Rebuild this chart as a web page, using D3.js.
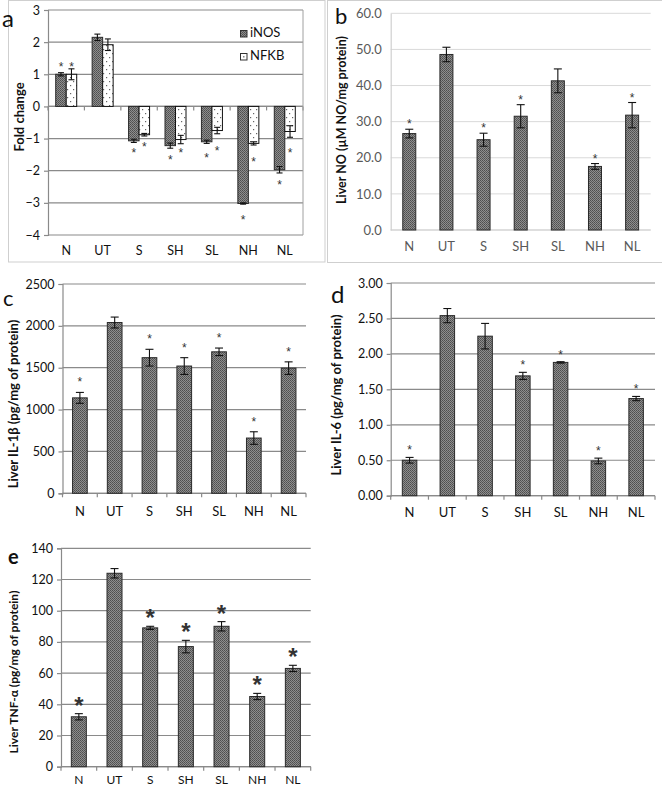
<!DOCTYPE html>
<html><head><meta charset="utf-8">
<script src="https://cdn.jsdelivr.net/npm/d3@7"></script>
<style>
html,body{margin:0;padding:0;background:#fff;}
svg{display:block;font-family:Lato,"Open Sans",sans-serif;}
</style></head>
<body>
<svg id="c" width="662" height="788"></svg>
<script>
// ---------- DATA ----------
const categories = ["N","UT","S","SH","SL","NH","NL"];

// panel a
const iNOS     = [1.00, 2.15, -1.07, -1.22, -1.10, -3.02, -1.97];
const iNOSErr  = [0.05, 0.10, 0.05, 0.08, 0.05, 0.02, 0.10];
const NFKB     = [1.00, 1.92, -0.88, -1.03, -0.75, -1.15, -0.78];
const NFKBErr  = [0.17, 0.18, 0.04, 0.13, 0.10, 0.05, 0.18];
const starINOS = [1.3, null, -1.4, -1.6, -1.53, -3.47, -2.37];
const starNFKB = [1.3, null, -1.2, -1.4, -1.33, -1.68, -1.38];
const ticksA   = [3, 2, 1, 0, -1, -2, -3, -4];

// panel b
const liverNO    = [26.7, 48.6, 25.0, 31.5, 41.3, 17.6, 31.8];
const liverNOErr = [1.2, 2.0, 1.8, 3.2, 3.3, 0.8, 3.5];
const sigNO      = [1, 0, 1, 1, 0, 1, 1];
const ticksB     = [0, 10, 20, 30, 40, 50, 60];

// panel c
const il1b    = [1140, 2040, 1620, 1520, 1690, 660, 1495];
const il1bErr = [65, 65, 100, 100, 45, 75, 75];
const sigIL1b = [1, 0, 1, 1, 1, 1, 1];
const ticksC  = [0, 500, 1000, 1500, 2000, 2500];

// panel d
const il6    = [0.50, 2.54, 2.25, 1.69, 1.88, 0.49, 1.37];
const il6Err = [0.04, 0.10, 0.18, 0.05, 0.01, 0.04, 0.03];
const sigIL6 = [1, 0, 0, 1, 1, 1, 1];
const ticksD = [0, 0.5, 1, 1.5, 2, 2.5, 3];

// panel e
const tnf    = [32, 124, 89, 77, 90, 45, 63];
const tnfErr = [2, 3, 1, 4, 3, 2, 2];
const sigTNF = [1, 0, 1, 1, 1, 1, 1];
const ticksE = [0, 20, 40, 60, 80, 100, 120, 140];

// ---------- DRAW ----------
const STAR_FONT = "'Liberation Sans',Arial,sans-serif";
const svg = d3.select("#c");
const defs = svg.append("defs");
const hatch = defs.append("pattern").attr("id","hatch").attr("patternUnits","userSpaceOnUse")
  .attr("width",2).attr("height",2);
hatch.append("rect").attr("width",2).attr("height",2).attr("fill","#8e8e8e");
hatch.append("rect").attr("x",0).attr("y",0).attr("width",1).attr("height",1).attr("fill","#4e4e4e");
hatch.append("rect").attr("x",1).attr("y",1).attr("width",1).attr("height",1).attr("fill","#5a5a5a");
const dots = defs.append("pattern").attr("id","dots").attr("patternUnits","userSpaceOnUse")
  .attr("width",6).attr("height",8);
dots.append("rect").attr("width",6).attr("height",8).attr("fill","#fff");
dots.append("rect").attr("x",1).attr("y",1).attr("width",1.2).attr("height",1.2).attr("fill","#666");
dots.append("rect").attr("x",4).attr("y",5).attr("width",1.2).attr("height",1.2).attr("fill","#666");

// panel borders (a, b)
svg.append("rect").attr("x",8.5).attr("y",0.5).attr("width",316.5).attr("height",261.5)
  .attr("fill","none").attr("stroke","#cfcfcf");
svg.append("rect").attr("x",327.5).attr("y",0.5).attr("width",340).attr("height",262)
  .attr("fill","none").attr("stroke","#cfcfcf");

function panel(o){
  const g = svg.append("g");
  const y = d3.scaleLinear().domain(o.domain).range([o.y0, o.y1]);
  const x = d3.scaleBand().domain(categories).range([o.x0, o.x1]).paddingInner(0).paddingOuter(0);
  g.append("g").selectAll("line").data(o.ticks).join("line")
    .attr("x1",o.x0).attr("x2",o.x1).attr("y1",d=>y(d)).attr("y2",d=>y(d))
    .attr("stroke",o.gridColor).attr("stroke-width",o.gridW||1.2);
  const ya = d3.axisLeft(y).tickValues(o.ticks).tickFormat(o.fmt).tickSize(o.yTick).tickPadding(o.yPad||4);
  const yg = g.append("g").attr("transform",`translate(${o.x0},0)`).call(ya);
  yg.select(".domain").attr("stroke",o.axisColor).attr("stroke-width",1.2);
  yg.selectAll(".tick line").attr("stroke",o.axisColor).attr("stroke-width",1.2);
  yg.selectAll("text").attr("font-size",o.tickFs).attr("fill",o.textColor)
    .attr("font-family","Lato,sans-serif");
  const base = y(0);
  g.append("line").attr("x1",o.x0).attr("x2",o.x1).attr("y1",base).attr("y2",base)
    .attr("stroke",o.axisColor).attr("stroke-width",1.2);
  if(o.xTick){
    g.append("g").selectAll("line").data(categories.concat(["_end"])).join("line")
      .attr("x1",(d,i)=>o.x0 + i*x.step()).attr("x2",(d,i)=>o.x0 + i*x.step())
      .attr("y1",base).attr("y2",base+o.xTick).attr("stroke",o.axisColor).attr("stroke-width",1.2);
  }
  g.append("g").selectAll("text").data(categories).join("text")
    .attr("x",d=>x(d)+x.bandwidth()/2).attr("y",o.labY).attr("text-anchor","middle")
    .attr("dominant-baseline","middle").attr("font-size",o.catFs).attr("fill",o.textColor).text(d=>d);
  g.append("text").attr("transform",`translate(${o.tx},${o.ty}) rotate(-90)`)
    .attr("text-anchor","middle").attr("dominant-baseline","middle")
    .attr("font-weight","bold").attr("font-size",o.titleFs).attr("fill","#111").text(o.title);
  g.append("text").attr("x",o.lx).attr("y",o.ly).attr("font-size",o.letterFs)
    .attr("font-weight",o.letterBold?"bold":"normal").attr("fill","#111").text(o.letter);
  return {g,x,y};
}

function bars(P, vals, errs, sig, o){
  const {g,x,y} = P;
  const bw = o.bw;
  const cx = d => x(d)+x.bandwidth()/2 + (o.shift||0);
  g.append("g").selectAll("rect").data(categories).join("rect")
    .attr("x",d=>cx(d)-bw/2).attr("width",bw)
    .attr("y",(d,i)=>Math.min(y(vals[i]),y(0))).attr("height",(d,i)=>Math.abs(y(vals[i])-y(0)))
    .attr("fill",o.fill).attr("stroke",o.stroke||"#2a2a2a").attr("stroke-width",1);
  const eg = g.append("g").attr("stroke","#111").attr("stroke-width",1.1);
  categories.forEach((d,i)=>{
    const c = cx(d), hi = y(vals[i]+errs[i]), lo = y(vals[i]-errs[i]);
    eg.append("line").attr("x1",c).attr("x2",c).attr("y1",hi).attr("y2",lo);
    eg.append("line").attr("x1",c-o.cap/2).attr("x2",c+o.cap/2).attr("y1",hi).attr("y2",hi);
    eg.append("line").attr("x1",c-o.cap/2).attr("x2",c+o.cap/2).attr("y1",lo).attr("y2",lo);
  });
  if(sig){
    g.append("g").selectAll("text").data(categories.filter((d,i)=>sig[i])).join("text")
      .attr("x",d=>cx(d)).attr("text-anchor","middle")
      .attr("y",d=>{const i=categories.indexOf(d); return y(vals[i]+errs[i]) - o.starOff;})
      .attr("font-family",STAR_FONT)
      .attr("font-size",o.starFs).attr("font-weight",o.starBold?"bold":"normal")
      .attr("fill","#333").text("*");
  }
}

// ---- panel a ----
const PA = panel({domain:[-4,3], y0:235, y1:10, x0:48, x1:303, ticks:ticksA, fmt:d3.format("d"),
  gridColor:"#8a8a8a", axisColor:"#8a8a8a", textColor:"#111", yTick:4, xTick:4, tickFs:12.5, catFs:12.5,
  labY:252, title:"Fold change", tx:21, ty:117, titleFs:13, letter:"a", lx:2, ly:27, letterFs:24});
PA.g.append("line").attr("x1",303).attr("x2",303).attr("y1",10).attr("y2",235).attr("stroke","#a0a0a0").attr("stroke-width",1);
bars(PA, iNOS, iNOSErr, null, {bw:10.5, shift:-5.25, fill:"url(#hatch)", cap:6});
bars(PA, NFKB, NFKBErr, null, {bw:10.5, shift:5.25, fill:"url(#dots)", stroke:"#111", cap:6});
[[starINOS,-5.25],[starNFKB,5.25]].forEach(([arr,sh])=>{
  PA.g.append("g").selectAll("text").data(categories.filter((d,i)=>arr[i]!==null)).join("text")
    .attr("x",d=>PA.x(d)+PA.x.bandwidth()/2+sh).attr("text-anchor","middle")
    .attr("y",d=>PA.y(arr[categories.indexOf(d)])+6).attr("font-family",STAR_FONT)
    .attr("font-size",12).attr("fill","#333").text("*");
});
const lg = PA.g.append("g");
lg.append("rect").attr("x",240.5).attr("y",30.5).attr("width",6.5).attr("height",6.5).attr("fill","url(#hatch)").attr("stroke","#333");
lg.append("text").attr("x",250).attr("y",34).attr("dominant-baseline","middle").attr("font-size",13).attr("fill","#111").text("iNOS");
lg.append("rect").attr("x",240.5).attr("y",53.5).attr("width",6.5).attr("height",6.5).attr("fill","#fff").attr("stroke","#333");
lg.append("rect").attr("x",243.2).attr("y",56.2).attr("width",1.2).attr("height",1.2).attr("fill","#444");
lg.append("text").attr("x",250).attr("y",57).attr("dominant-baseline","middle").attr("font-size",13).attr("fill","#111").text("NFKB");

// ---- panel b ----
const PB = panel({domain:[0,60], y0:230, y1:13.3, x0:390.7, x1:650.7, ticks:ticksB, fmt:d3.format(".1f"),
  gridColor:"#d9d9d9", gridW:1, axisColor:"#d0d0d0", textColor:"#595959", yTick:0, yPad:9, xTick:0,
  tickFs:13, catFs:13, labY:248, title:"Liver NO (µM NO/mg protein)", tx:342.5, ty:120, titleFs:12.5,
  letter:"b", lx:335, ly:24, letterFs:22});
bars(PB, liverNO, liverNOErr, sigNO, {bw:13, fill:"url(#hatch)", cap:8, starOff:1, starFs:12});

// ---- panel c ----
const PC = panel({domain:[0,2500], y0:493.3, y1:284, x0:62.5, x1:306, ticks:ticksC, fmt:d3.format("d"),
  gridColor:"#8a8a8a", axisColor:"#8a8a8a", textColor:"#111", yTick:4, xTick:4, tickFs:12.5, catFs:13,
  labY:512.7, title:"Liver IL-1β (pg/mg of protein)", tx:15, ty:404, titleFs:13,
  letter:"c", lx:3, ly:306, letterFs:22});
bars(PC, il1b, il1bErr, sigIL1b, {bw:14.7, fill:"url(#hatch)", cap:8, starOff:6, starFs:12});

// ---- panel d ----
const PD = panel({domain:[0,3], y0:495.7, y1:283, x0:390.7, x1:655, ticks:ticksD, fmt:d3.format(".2f"),
  gridColor:"#8a8a8a", axisColor:"#8a8a8a", textColor:"#111", yTick:4, xTick:4, tickFs:12.5, catFs:13,
  labY:514, title:"Liver IL-6 (pg/mg of protein)", tx:338, ty:395, titleFs:13,
  letter:"d", lx:331, ly:303, letterFs:24});
bars(PD, il6, il6Err, sigIL6, {bw:14.5, fill:"url(#hatch)", cap:8, starOff:3, starFs:12});

// ---- panel e ----
const PE = panel({domain:[0,140], y0:766.7, y1:548.3, x0:61, x1:310.7, ticks:ticksE, fmt:d3.format("d"),
  gridColor:"#8a8a8a", axisColor:"#8a8a8a", textColor:"#111", yTick:4, xTick:4, tickFs:12.5, catFs:12,
  labY:780.5, title:"Liver TNF-α (pg/mg of protein)", tx:15, ty:672, titleFs:12,
  letter:"e", lx:8, ly:564, letterFs:20, letterBold:true});
bars(PE, tnf, tnfErr, sigTNF, {bw:15, fill:"url(#hatch)", cap:8, starOff:0, starFs:24, starBold:true});
</script>
</body></html>
